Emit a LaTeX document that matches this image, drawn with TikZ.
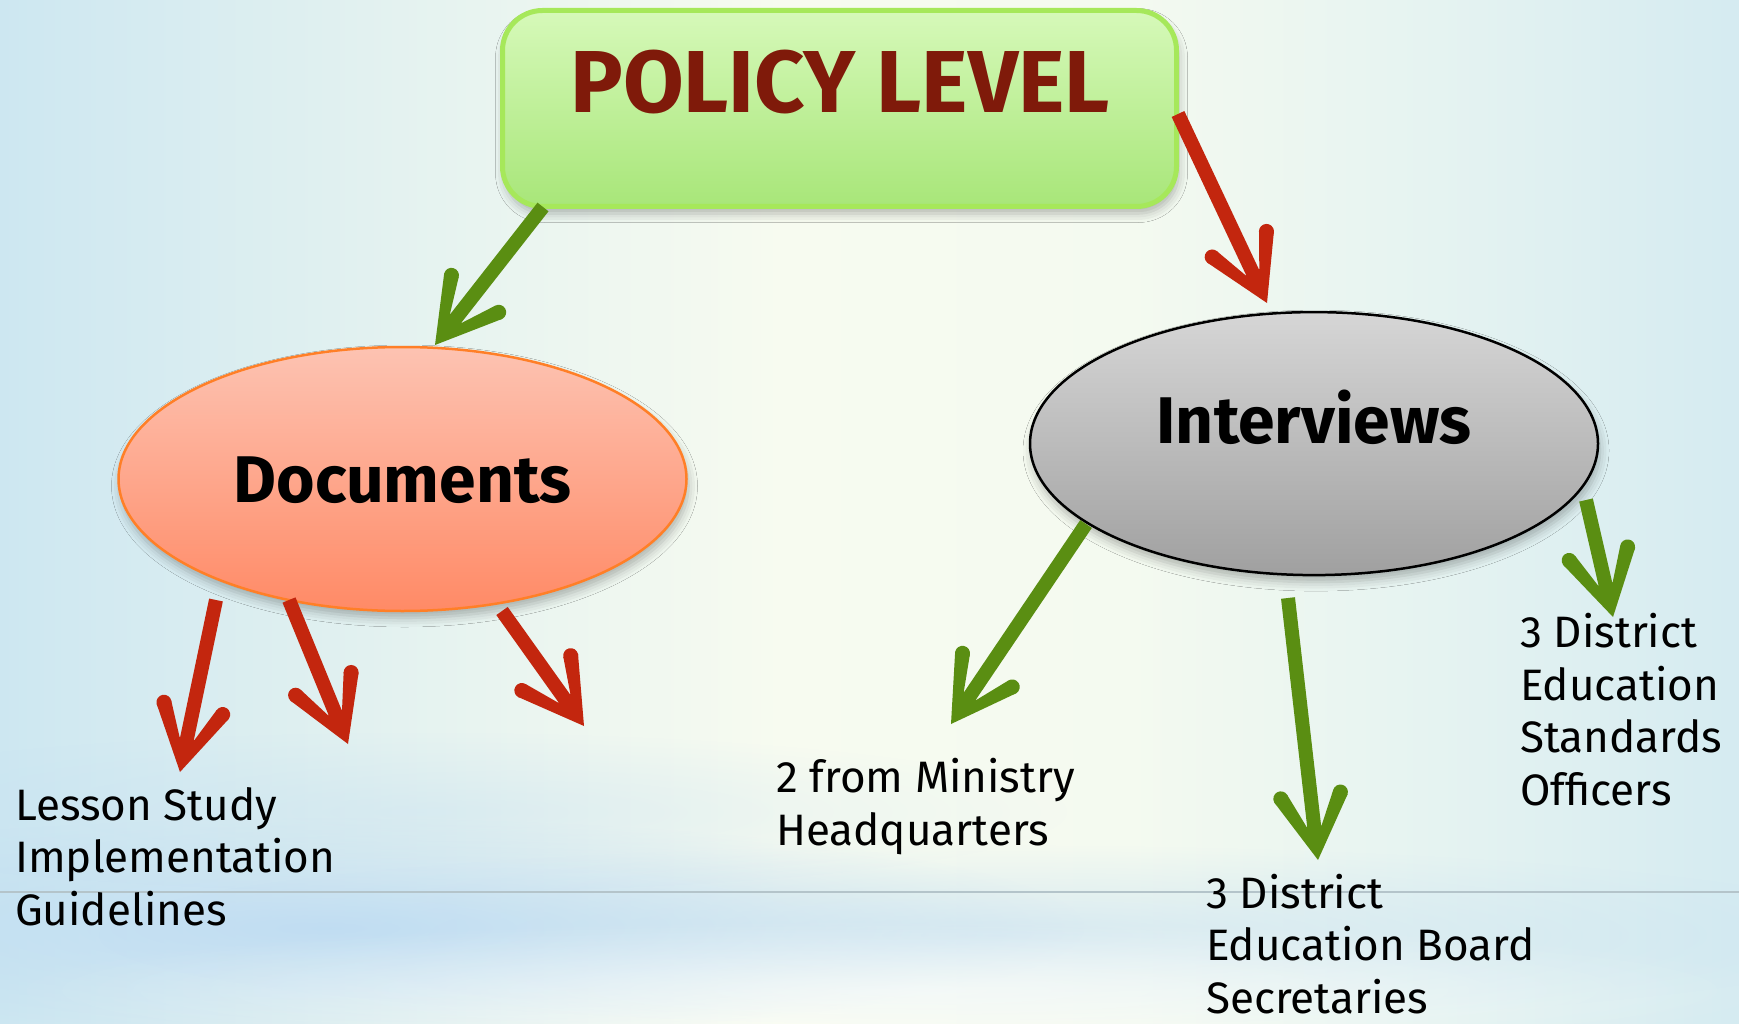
\documentclass[tikz,border=0pt]{standalone}
\usepackage{fontspec}
\setmainfont{Fira Sans}
\usetikzlibrary{shapes.geometric,fadings,shadows.blur}

% palette
\definecolor{bgL}{HTML}{CDE7F1}
\definecolor{bgLm}{HTML}{E6F3F0}
\definecolor{bgM}{HTML}{F7FBF0}
\definecolor{bgMr}{HTML}{F4FAF0}
\definecolor{bgRm}{HTML}{E3F2F1}
\definecolor{bgR}{HTML}{D5EBF1}
\definecolor{streak}{HTML}{BEDCF3}
\definecolor{ruleclr}{HTML}{B4C4CA}
\definecolor{boxtop}{HTML}{D6F9B9}
\definecolor{boxbot}{HTML}{A8E679}
\definecolor{boxedge}{HTML}{A6E85A}
\definecolor{policyred}{HTML}{7F1A0A}
\definecolor{doctop}{HTML}{FDC3B2}
\definecolor{docbot}{HTML}{FF8A66}
\definecolor{docedge}{HTML}{FF7F27}
\definecolor{inttop}{HTML}{D6D6D6}
\definecolor{intbot}{HTML}{A0A0A0}
\definecolor{arrred}{HTML}{C3260E}
\definecolor{arrgreen}{HTML}{5A8E12}

% page background, left to right (path spans 25bp..75bp)
\pgfdeclarehorizontalshading{pagebg}{100bp}{%
  color(0bp)=(bgL); color(25bp)=(bgL); color(37.5bp)=(bgLm);
  color(47.5bp)=(bgM); color(57.5bp)=(bgMr); color(67.5bp)=(bgRm);
  color(75bp)=(bgR); color(100bp)=(bgR)}

\tikzfading[name=softblob, inner color=transparent!0, outer color=transparent!100]

% open chevron head: sharp tip, rounded barb ends
\pgfdeclarearrow{
  name = Chev,
  setup code = {
    \pgfarrowssettipend{0pt}
    \pgfarrowssetlineend{-30pt}
    \pgfarrowssetvisualbackend{-72pt}
    \pgfarrowssetbackend{-72pt}
    \pgfarrowshullpoint{0pt}{0pt}
    \pgfarrowsupperhullpoint{-72pt}{38pt}
  },
  drawing code = {
    \pgfpathmoveto{\pgfpoint{0pt}{0pt}}
    \pgfpathlineto{\pgfpoint{-61.9pt}{36.8pt}}
    \pgfpathlineto{\pgfpoint{-68.1pt}{23.2pt}}
    \pgfpathlineto{\pgfpoint{-34pt}{7.5pt}}
    \pgfpathlineto{\pgfpoint{-34pt}{-7.5pt}}
    \pgfpathlineto{\pgfpoint{-68.1pt}{-23.2pt}}
    \pgfpathlineto{\pgfpoint{-61.9pt}{-36.8pt}}
    \pgfpathclose
    \pgfusepathqfill
    \pgfpathcircle{\pgfpoint{-65pt}{30pt}}{7.5pt}
    \pgfusepathqfill
    \pgfpathcircle{\pgfpoint{-65pt}{-30pt}}{7.5pt}
    \pgfusepathqfill
  }
}

\begin{document}
\begin{tikzpicture}[x=1pt,y=-1pt,
  softshadow/.style={blur shadow={shadow xshift=2pt,shadow yshift=-7pt,
      shadow blur radius=9pt,shadow opacity=28}},
  policybox/.style={draw=boxedge,line width=5pt,rounded corners=40pt,
      top color=boxtop,bottom color=boxbot,minimum width=674pt,
      minimum height=196pt,inner sep=0pt,softshadow},
  docshape/.style={ellipse,draw=docedge,line width=2.5pt,
      top color=doctop,bottom color=docbot,minimum width=568pt,
      minimum height=264pt,inner sep=0pt,softshadow},
  intshape/.style={ellipse,draw=black,line width=2.5pt,
      top color=inttop,bottom color=intbot,minimum width=568pt,
      minimum height=263pt,inner sep=0pt,softshadow},
  headtext/.style={inner sep=0pt,font=\bfseries\fontsize{88}{96}\selectfont,
      text=policyred},
  titletext/.style={inner sep=0pt,font=\bfseries\fontsize{66}{74}\selectfont},
  leaftext/.style={inner sep=0pt,align=left,anchor=base west,
      font=\fontsize{44}{52.5}\selectfont},
  redarrow/.style={color=arrred,line width=14pt,-Chev},
  greenarrow/.style={color=arrgreen,line width=14pt,-Chev}
]
\useasboundingbox (0,0) rectangle (1739,1024);

% background wash with soft blue streaks near the bottom
\shade[shading=pagebg] (0,0) rectangle (1739,1024);
\fill[streak,path fading=softblob,opacity=0.9] (330,928) ellipse [x radius=760,y radius=110];
\fill[streak,path fading=softblob,opacity=0.55] (1000,935) ellipse [x radius=900,y radius=90];
\fill[streak,path fading=softblob,opacity=0.35] (420,812) ellipse [x radius=650,y radius=80];
\fill[white,path fading=softblob,opacity=0.5] (900,990) ellipse [x radius=900,y radius=70];
\draw[ruleclr,line width=2pt] (0,892) -- (1739,892);

% shapes
\node[policybox] (policy) at (839.5,108.5) {};
\node[headtext,anchor=base] (policytxt) at (840,113) {POLICY LEVEL};

\node[docshape] (docs) at (402.5,479) {};
\node[titletext,anchor=base] (docstxt) at (402.5,502) {Documents};

\node[intshape] (intv) at (1314,443.6) {};
\node[titletext,anchor=base] (intvtxt) at (1314,443) {Interviews};

% leaf labels (anchored on the baseline of their last line)
\node[leaftext] (guide) at (15,925) {Lesson Study\\Implementation\\Guidelines};
\node[leaftext] (hq) at (776,845) {2 from Ministry\\Headquarters};
\node[leaftext] (debs) at (1206,1013) {3 District\\Education Board\\Secretaries};
\node[leaftext] (deso) at (1520,805) {3 District\\Education\\Standards\\Officers};

% arrow end points
\coordinate (pL0) at (543,207);  \coordinate (pL1) at (435,345);
\coordinate (pR0) at (1178,114); \coordinate (pR1) at (1267,303);
\coordinate (d10) at (216,600);  \coordinate (d11) at (180,772);
\coordinate (d20) at (289,600);  \coordinate (d21) at (348,744);
\coordinate (d30) at (502,611);  \coordinate (d31) at (584,726);
\coordinate (i10) at (1086,524); \coordinate (i11) at (951,724);
\coordinate (i20) at (1288,598); \coordinate (i21) at (1318,860);
\coordinate (i30) at (1586,500); \coordinate (i31) at (1613,617);

% arrows
\draw[greenarrow] (pL0) -- (pL1);
\draw[redarrow] (pR0) -- (pR1);
\draw[redarrow] (d10) -- (d11);
\draw[redarrow] (d20) -- (d21);
\draw[redarrow] (d30) -- (d31);
\draw[greenarrow] (i10) -- (i11);
\draw[greenarrow] (i20) -- (i21);
\draw[greenarrow] (i30) -- (i31);
\end{tikzpicture}
\end{document}
